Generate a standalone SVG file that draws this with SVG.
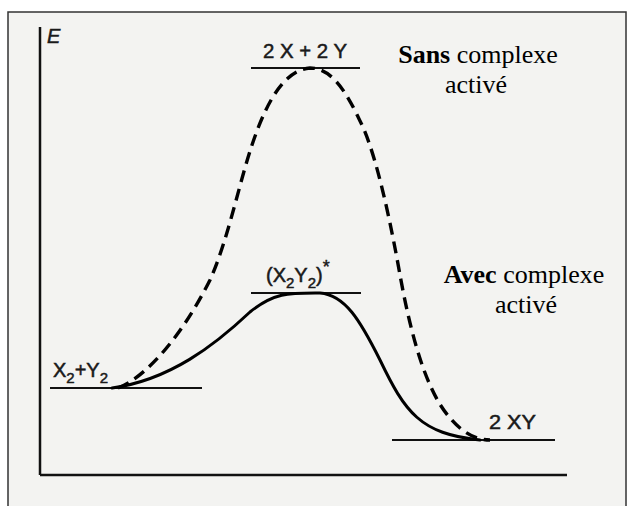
<svg xmlns="http://www.w3.org/2000/svg" width="627" height="506" viewBox="0 0 627 506">
<style>
.axis{stroke:#111;stroke-width:2.5;fill:none}
.lvl{stroke:#111;stroke-width:2;fill:none}
.solid{stroke:#000;stroke-width:3;fill:none;stroke-linecap:round}
.dash{stroke:#000;stroke-width:3.4;fill:none;stroke-dasharray:12 7}
.sans{font-family:"Liberation Sans",Arial,sans-serif;fill:#1a1a1a;font-size:20px;stroke:#1a1a1a;stroke-width:0.5}
.sub{font-size:15px}
.ser{font-family:"Liberation Serif","Times New Roman",serif;fill:#000;font-size:26px}
</style>
<rect x="0" y="0" width="627" height="506" fill="#fff"/>
<rect x="8" y="12" width="618" height="500" fill="#f3f3f1" stroke="#333" stroke-width="1.5"/>
<g id="axes">
<line class="axis" x1="40" y1="27" x2="40" y2="475"/>
<line class="axis" x1="40" y1="475" x2="567" y2="475"/>
<text x="47" y="43" class="sans" font-style="italic" font-size="17">E</text>
</g>
<g id="level-reactants">
<line class="lvl" x1="50" y1="388" x2="202" y2="388"/>
<text x="53" y="377" class="sans" font-size="21">X<tspan class="sub" dy="6">2</tspan><tspan dy="-6">+Y</tspan><tspan class="sub" dy="6">2</tspan></text>
</g>
<g id="level-atoms">
<line class="lvl" x1="251" y1="68" x2="360" y2="68"/>
<text x="263" y="58" class="sans" textLength="84" lengthAdjust="spacingAndGlyphs">2 X + 2 Y</text>
</g>
<g id="level-complex">
<line class="lvl" x1="251" y1="293" x2="361" y2="293"/>
<text x="266" y="282" class="sans" font-size="22">(X<tspan class="sub" dy="6">2</tspan><tspan dy="-6">Y</tspan><tspan class="sub" dy="6">2</tspan><tspan dy="-6">)</tspan><tspan dy="-9" font-size="18">*</tspan></text>
</g>
<g id="level-products">
<line class="lvl" x1="392" y1="440" x2="555" y2="440"/>
<text x="489" y="429" class="sans" textLength="47" lengthAdjust="spacingAndGlyphs">2 XY</text>
</g>
<g id="connectors">
<path class="dash" d="M118,388 C150,375 185,330 210,280 C228,240 240,180 252,145 C262,115 280,70 310,68 C335,68 350,100 362,125 C378,160 392,230 400,275 C410,330 425,390 450,418 C462,432 475,440 490,440"/>
<path class="solid" d="M112,388 C170,380 215,345 250,312 C275,292 290,293 320,293 C345,295 360,320 380,360 C405,412 420,434 480,440"/>
</g>
<g id="label-sans">
<text x="478" y="63" class="ser" text-anchor="middle"><tspan font-weight="bold">Sans</tspan> complexe</text>
<text x="476" y="93" class="ser" text-anchor="middle">activé</text>
</g>
<g id="label-avec">
<text x="524" y="283" class="ser" text-anchor="middle"><tspan font-weight="bold">Avec</tspan> complexe</text>
<text x="526" y="313" class="ser" text-anchor="middle">activé</text>
</g>
</svg>
